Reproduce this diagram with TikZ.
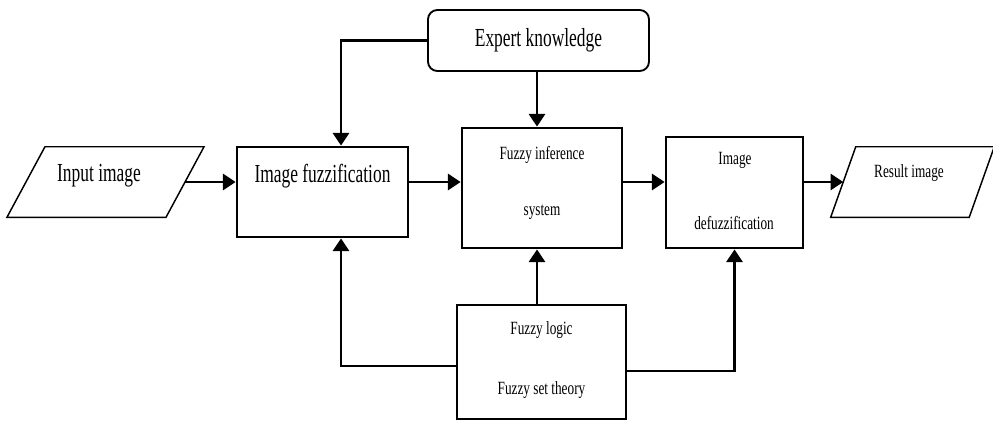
\documentclass[tikz,border=0pt]{standalone}
\usepackage{fontspec}
\setmainfont{Liberation Serif}[FakeStretch=0.71]
\newfontfamily\bigfont{Liberation Serif}[FakeStretch=0.67]
\usetikzlibrary{arrows.meta}
\begin{document}
\begin{tikzpicture}[x=0.75pt,y=-0.75pt,
  box/.style={draw, line width=2.1pt, inner sep=0pt},
  ghost/.style={inner sep=0pt},
  para/.style={draw, line width=1.1pt, line join=miter},
  bigtxt/.style={inner sep=0pt, font=\bigfont\fontsize{19.5}{23}\selectfont},
  smalltxt/.style={inner sep=0pt, font=\fontsize{14}{17}\selectfont},
  conn/.style={line width=2.1pt, -{Triangle[length=9.5pt,width=12pt]}}]
\fill[white] (0,0) rectangle (993,421);
\useasboundingbox (0,0) rectangle (993,421);

% helper coordinates
\coordinate (ay) at (0,182);
\coordinate (cx) at (341,0);
\coordinate (vx) at (537,0);
\coordinate (ly) at (0,366);
\coordinate (ry) at (0,371);

% input parallelogram
\node[ghost, minimum width=118.9pt, minimum height=52.5pt] (inp) at (105.5,182) {};
\draw[para] ([xshift=14.25pt]inp.north west) -- ([xshift=14.25pt]inp.north east)
  -- ([xshift=-14.25pt]inp.south east) -- ([xshift=-14.25pt]inp.south west) -- cycle;
\node[bigtxt] (inpT) at (99,176) {Input image};

% result parallelogram
\node[ghost, minimum width=103.5pt, minimum height=52.5pt] (res) at (912.5,182) {};
\draw[para] ([xshift=9.4pt]res.north west) -- ([xshift=9.4pt]res.north east)
  -- ([xshift=-9.4pt]res.south east) -- ([xshift=-9.4pt]res.south west) -- cycle;
\node[smalltxt] (resT) at (909,173) {Result image};

% boxes
\node[box, minimum width=128.25pt, minimum height=67.5pt] (fuz) at (322.5,192) {};
\node[bigtxt] (fuzT) at (322.5,176) {Image fuzzification};

\node[box, minimum width=120pt, minimum height=90pt] (inf) at (542,188) {};
\node[smalltxt] (infT1) at (542,155) {Fuzzy inference};
\node[smalltxt] (infT2) at (542,212) {system};

\node[box, minimum width=102.75pt, minimum height=83.25pt] (def) at (734.5,192.5) {};
\node[smalltxt] (defT1) at (735,160) {Image};
\node[smalltxt] (defT2) at (734,223) {defuzzification};

\node[draw, line width=1.4pt, rounded corners=7pt, inner sep=0pt,
      minimum width=165.75pt, minimum height=45.75pt] (exp) at (538.5,40.5) {};
\node[bigtxt] (expT) at (538.5,40) {Expert knowledge};

\node[box, minimum width=126.75pt, minimum height=85.5pt] (log) at (541.5,362) {};
\node[smalltxt] (logT1) at (541.5,330) {Fuzzy logic};
\node[smalltxt] (logT2) at (541.5,390) {Fuzzy set theory};

% connectors
\draw[conn] (inp.east) -- (inp.east -| fuz.west);
\draw[conn] (fuz.east |- ay) -- (inf.west |- ay);
\draw[conn] (inf.east |- ay) -- (def.west |- ay);
\draw[conn] (def.east |- ay) -- (res.west);
\draw[conn] (vx |- exp.south) -- (vx |- inf.north);
\draw[conn] (exp.west) -| (cx |- fuz.north);
\draw[conn] (vx |- log.north) -- (vx |- inf.south);
\draw[conn] (log.west |- ly) -| (cx |- fuz.south);
\draw[conn] (log.east |- ry) -| (def.south);
\end{tikzpicture}
\end{document}
